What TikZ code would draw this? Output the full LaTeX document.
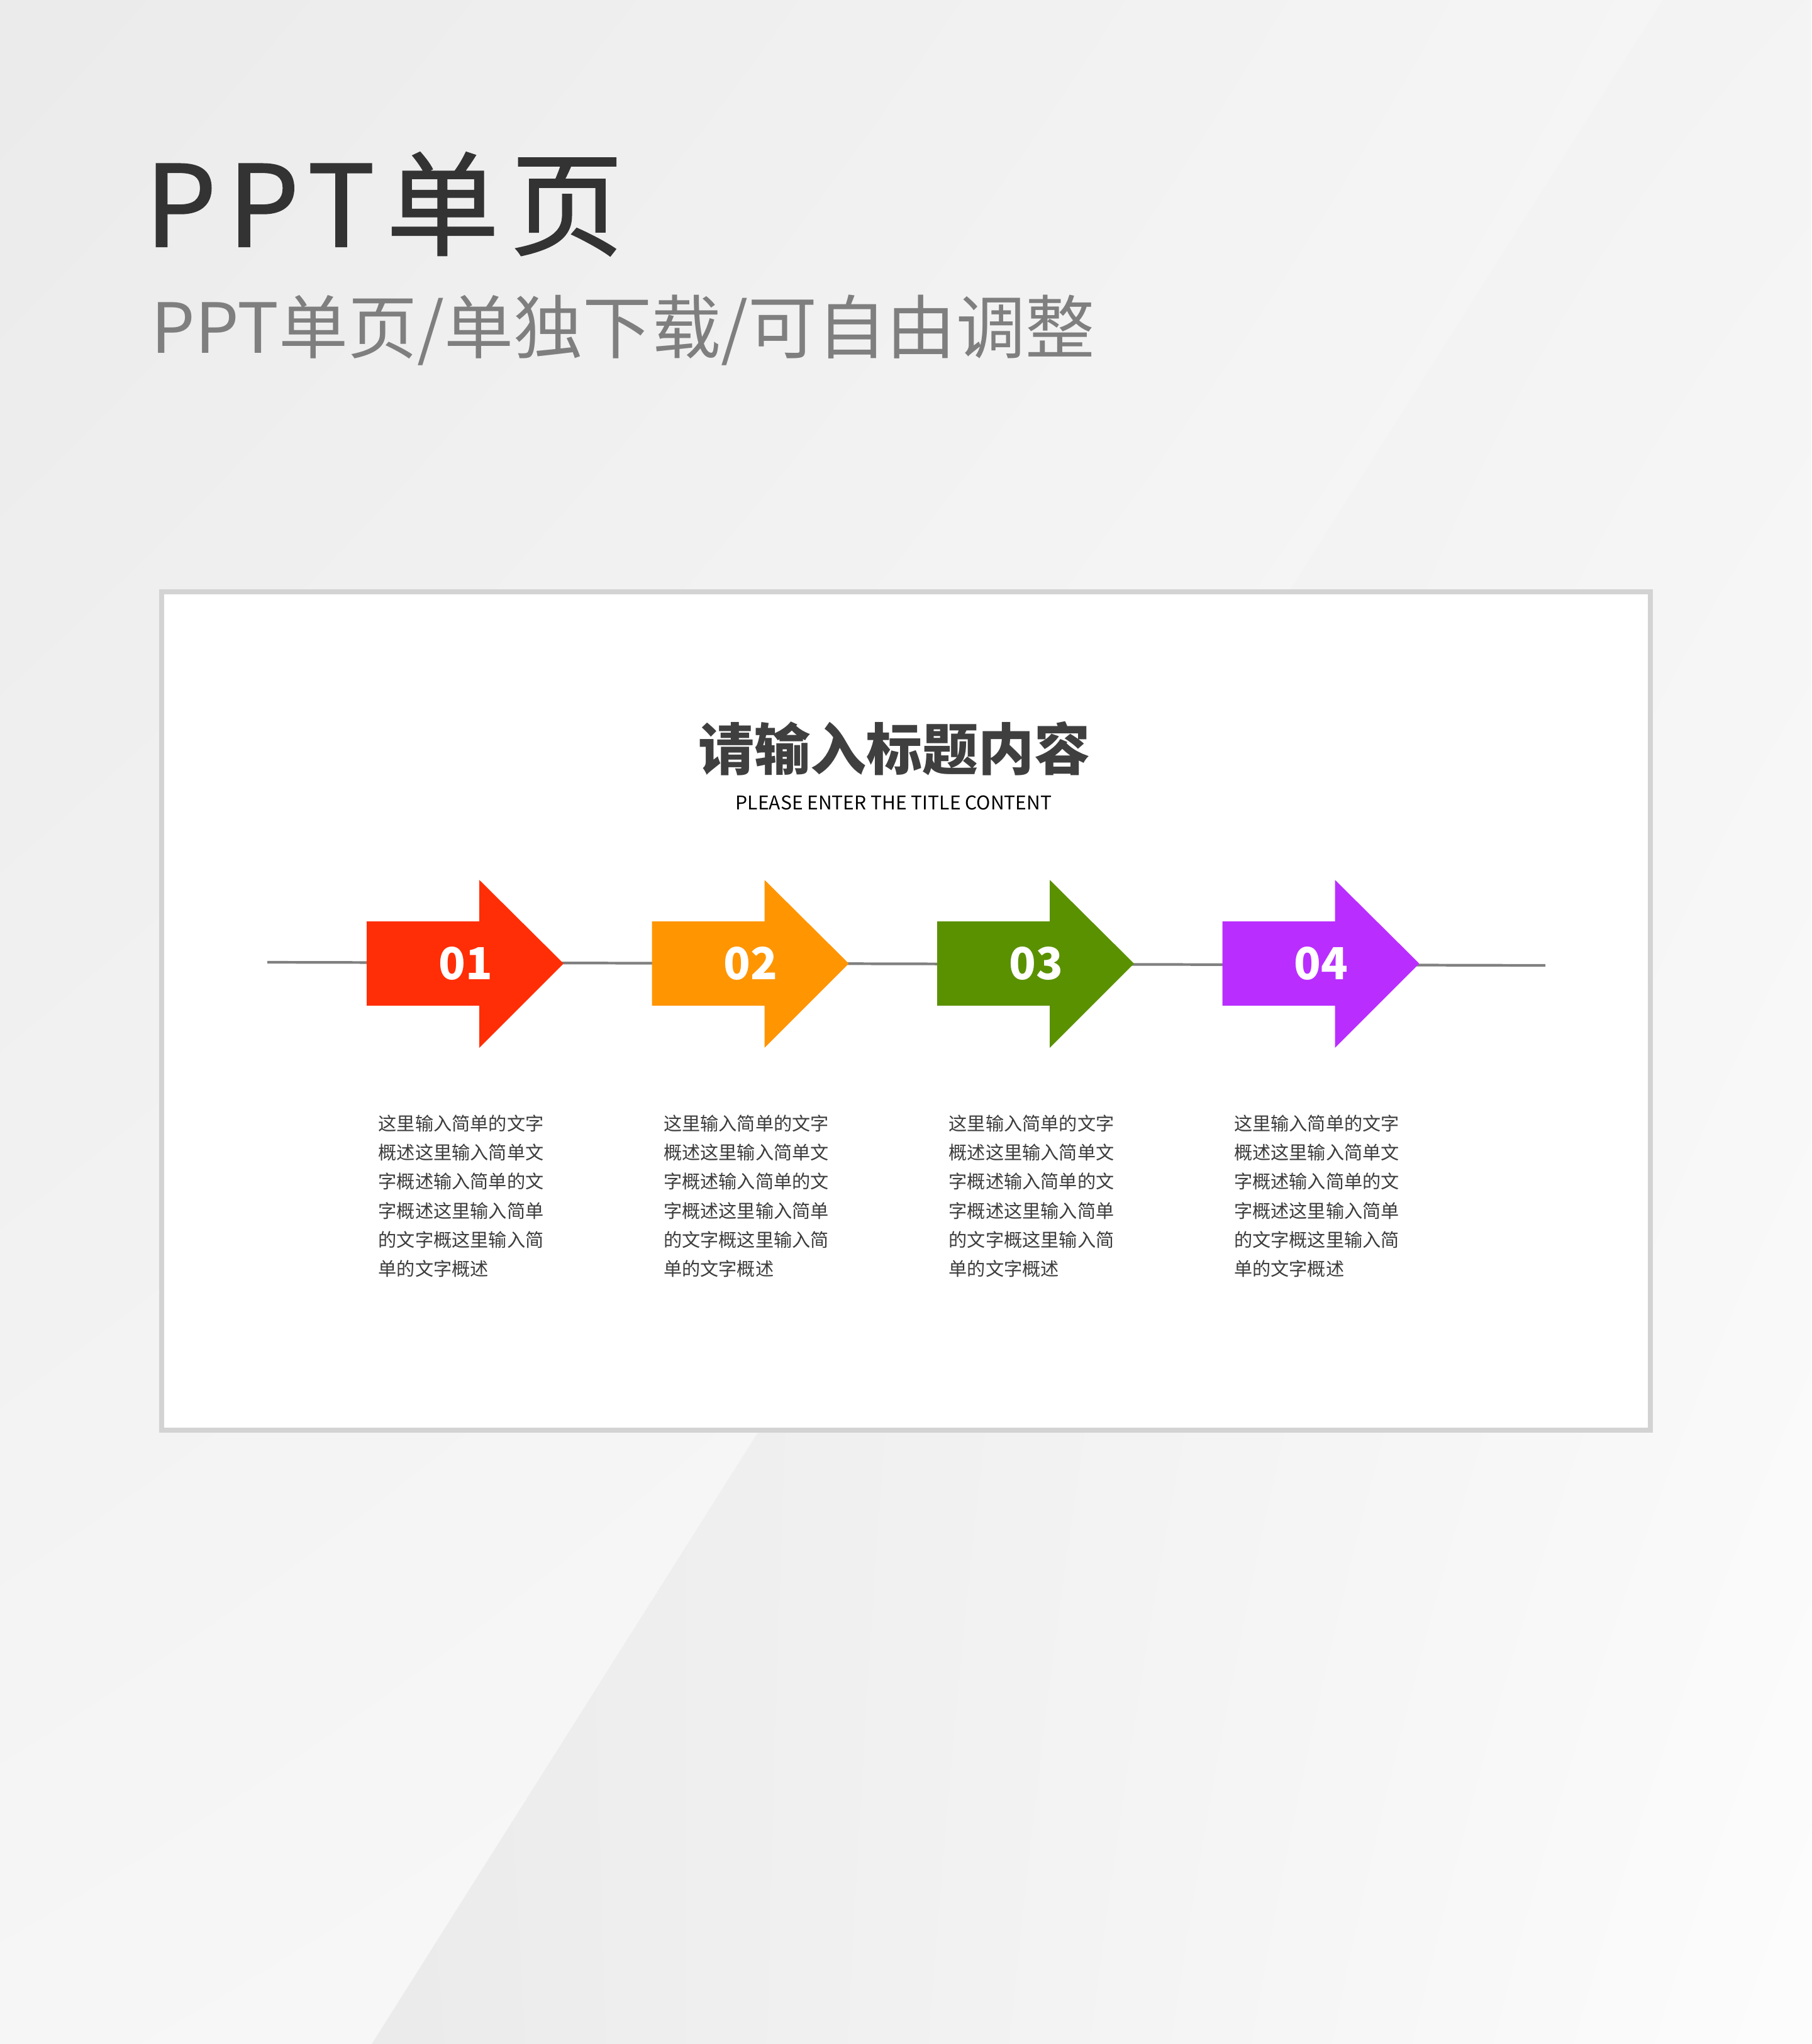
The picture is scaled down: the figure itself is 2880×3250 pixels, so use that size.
\documentclass[tikz,border=0pt]{standalone}
\usepackage{fontspec}
\setmainfont{Noto Sans CJK SC}
\newfontfamily\spacedfont[LetterSpace=10,FakeBold=1.2]{Noto Sans CJK SC}
\usetikzlibrary{shadings}

\definecolor{titlegray}{HTML}{333333}
\definecolor{subgray}{HTML}{7F7F7F}
\definecolor{headgray}{HTML}{3F3F3F}
\definecolor{descgray}{HTML}{3C3C3C}
\definecolor{cardline}{HTML}{D3D3D3}
\definecolor{linegray}{HTML}{808080}
\definecolor{stepred}{HTML}{FF2E06}
\definecolor{steporange}{HTML}{FF9500}
\definecolor{stepgreen}{HTML}{5A9100}
\definecolor{steppurple}{HTML}{B92EFF}

\begin{document}
\begin{tikzpicture}[x=0.01cm,y=-0.01cm]
        \tikzset{stepnum/.style={inner sep=0,text=white,font=\bfseries\fontsize{20}{24}\selectfont},
            desc/.style={anchor=north west,inner sep=0,align=left,text=descgray,
                font=\fontsize{8.3}{13.15}\selectfont},
            timeline/.style={draw=linegray,line width=1.2pt}}
        \useasboundingbox (0,0) rectangle (2880,3250);
        % background
        \shade[upper left=black!8,upper right=black!4,lower left=black!3.5,lower right=black!1.5]
            (0,0) -- (2643,0) -- (591,3250) -- (0,3250) -- cycle;
        \shade[upper left=black!7,upper right=black!4.5,lower left=black!8,lower right=black!1]
            (2643,0) -- (2880,0) -- (2880,3250) -- (591,3250) -- cycle;
        \node[anchor=base west,inner sep=0,text=titlegray,font=\spacedfont\fontsize{51}{60}\selectfont]
            (title) at (230,392) {PPT单页};
        \node[anchor=base west,inner sep=0,text=subgray,font=\fontsize{31.3}{36}\selectfont]
            (subtitle) at (240,561) {PPT单页/单独下载/可自由调整};
        % card
        \draw[cardline,line width=2.3pt,fill=white] (257,941) rectangle (2624,2274);
        \node[inner sep=0,text=headgray,font=\bfseries\fontsize{25.3}{30}\selectfont]
            (heading) at (1422,1190) {请输入标题内容};
        \node[anchor=base,inner sep=0,font=\fontsize{8.55}{11}\selectfont]
            (headingen) at (1421,1287) {PLEASE ENTER THE TITLE CONTENT};
        \coordinate (lineL) at (425,1530);
        \coordinate (lineR) at (2457,1535);
        \draw[timeline] (lineL) -- (lineR);
        \foreach \i/\col in {1/stepred,2/steporange,3/stepgreen,4/steppurple}{
            \pgfmathsetmacro{\x}{583+(\i-1)*453.5}
            \fill[\col] (\x,1465) -- ++(179,0) -- ++(0,-66) -- ++(134,133)
                -- ++(-134,134) -- ++(0,-67) -- ++(-179,0) -- cycle;
            \node[stepnum] (num\i) at ({\x+157},1532) {0\i};
            \node[desc] (desc\i) at ({\x+18},1772)
                {这里输入简单的文字\\概述这里输入简单文\\字概述输入简单的文\\字概述这里输入简单\\的文字概这里输入简\\单的文字概述};
        }
\end{tikzpicture}
\end{document}
